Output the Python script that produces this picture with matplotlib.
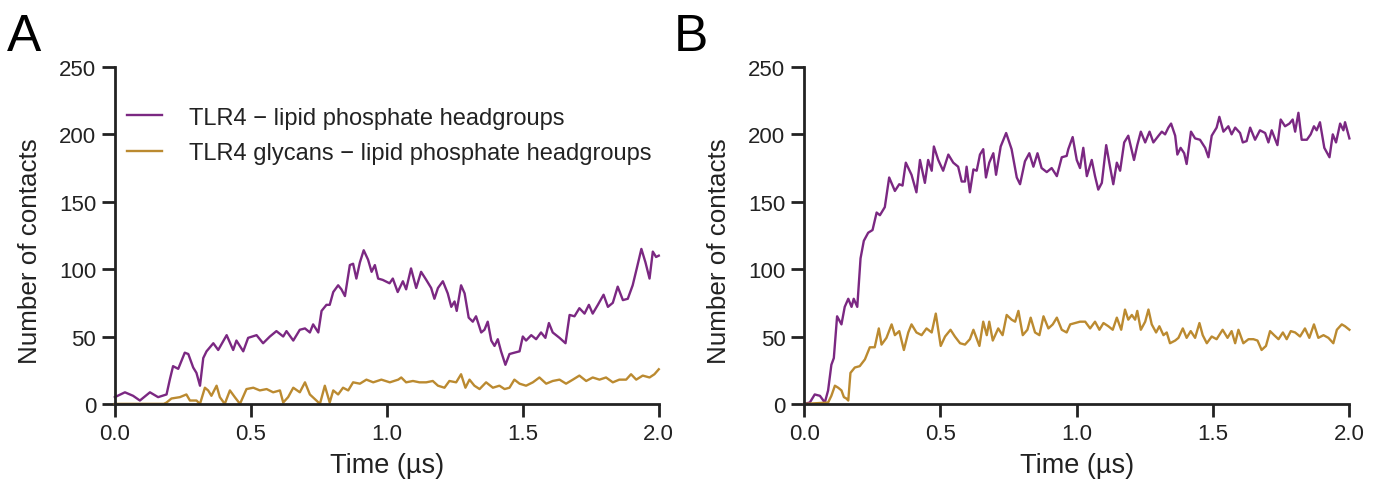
import matplotlib
matplotlib.use("Agg")
import matplotlib.pyplot as plt

plt.rcParams['font.family'] = ['Liberation Sans', 'DejaVu Sans']

PURPLE = '#7b2882'
GOLD = '#bb8a30'
AXIS = '#222222'

# Panel A - TLR4 / lipid phosphate headgroups
a_prot_t = [0.000, 0.037, 0.067, 0.092, 0.129, 0.159, 0.190, 0.202, 0.214, 0.233,
            0.257, 0.270, 0.288, 0.300, 0.313, 0.325, 0.337, 0.362, 0.380, 0.411,
            0.435, 0.447, 0.472, 0.490, 0.521, 0.545, 0.570, 0.594, 0.619, 0.631,
            0.656, 0.680, 0.699, 0.717, 0.729, 0.748, 0.760, 0.778, 0.790, 0.803,
            0.821, 0.833, 0.846, 0.864, 0.876, 0.888, 0.901, 0.915, 0.931, 0.944,
            0.956, 0.968, 0.985, 1.010, 1.022, 1.040, 1.059, 1.071, 1.089, 1.108,
            1.126, 1.145, 1.163, 1.175, 1.188, 1.206, 1.224, 1.237, 1.249, 1.257,
            1.273, 1.286, 1.301, 1.316, 1.328, 1.347, 1.359, 1.371, 1.384, 1.396,
            1.408, 1.420, 1.436, 1.451, 1.469, 1.488, 1.500, 1.512, 1.531, 1.549,
            1.567, 1.583, 1.596, 1.610, 1.635, 1.657, 1.672, 1.690, 1.708, 1.727,
            1.743, 1.757, 1.776, 1.797, 1.813, 1.831, 1.849, 1.868, 1.886, 1.904,
            1.919, 1.936, 1.951, 1.966, 1.978, 1.990, 2.000]
a_prot = [5, 8.6, 6, 2.5, 8.6, 5, 7, 18, 28, 26,
          38, 37, 27, 23, 13.5, 34, 39, 45, 40, 51,
          40, 47, 39, 49, 51, 45, 50, 54, 50, 54,
          47, 55, 56, 53, 59, 53, 69, 73.5, 73.5, 83,
          88, 85, 80, 103, 104, 93, 105, 114, 107, 98,
          103, 93, 92, 89.5, 93, 83, 91, 85, 100.5, 86,
          98, 92, 86, 78, 86, 91, 82, 72, 76, 69,
          88, 82, 64, 61, 65, 53, 55, 61, 47, 43,
          48, 39, 29, 37, 38, 39, 50, 47, 51, 48,
          53, 49, 60, 53, 49, 45, 66, 65, 71, 67,
          73.5, 67, 73.5, 81, 72, 75, 87, 77, 78, 88,
          100.5, 115, 105, 93, 113, 109, 110]

a_glyc_t = [0.000, 0.180, 0.190, 0.208, 0.239, 0.263, 0.276, 0.300, 0.313, 0.331,
            0.343, 0.355, 0.374, 0.386, 0.404, 0.423, 0.441, 0.460, 0.484, 0.509,
            0.533, 0.558, 0.582, 0.607, 0.619, 0.637, 0.656, 0.680, 0.699, 0.717,
            0.741, 0.754, 0.772, 0.790, 0.803, 0.821, 0.839, 0.858, 0.876, 0.901,
            0.925, 0.950, 0.980, 1.011, 1.042, 1.053, 1.071, 1.096, 1.120, 1.145,
            1.169, 1.188, 1.212, 1.230, 1.255, 1.273, 1.289, 1.304, 1.322, 1.341,
            1.365, 1.390, 1.414, 1.433, 1.451, 1.469, 1.488, 1.512, 1.537, 1.561,
            1.586, 1.610, 1.635, 1.659, 1.684, 1.708, 1.733, 1.757, 1.782, 1.806,
            1.831, 1.855, 1.880, 1.898, 1.917, 1.941, 1.966, 1.984, 2.000]
a_glyc = [0, 0, 1, 4, 5, 7, 2.5, 2.5, 0, 12,
          10, 6, 13.5, 5, 0, 10, 5, 0, 11, 12,
          10, 11, 8.6, 10, 1, 5, 12, 8.6, 16, 7,
          2.5, 0, 13.5, 1, 10, 7, 12, 10, 16, 15,
          18, 16, 18, 16, 18, 19.6, 16, 17, 16, 16,
          17, 13.5, 12, 17, 16, 22, 12, 18, 13.5, 11,
          16, 12, 13.5, 11, 12, 18, 15, 13.5, 16, 19.6,
          15, 17, 18, 15, 18, 21, 17, 19.6, 18, 19.6,
          16, 18, 18, 22, 18, 21, 19.6, 22, 25.7]

# Panel B
b_prot_t = [0.000, 0.021, 0.039, 0.058, 0.076, 0.088, 0.100, 0.109, 0.121, 0.137,
            0.149, 0.162, 0.174, 0.182, 0.195, 0.207, 0.219, 0.235, 0.251, 0.266,
            0.278, 0.296, 0.312, 0.333, 0.349, 0.361, 0.373, 0.394, 0.412, 0.425,
            0.443, 0.455, 0.468, 0.476, 0.492, 0.510, 0.529, 0.547, 0.565, 0.578,
            0.590, 0.596, 0.608, 0.621, 0.633, 0.645, 0.657, 0.667, 0.679, 0.694,
            0.704, 0.721, 0.741, 0.761, 0.780, 0.792, 0.810, 0.826, 0.841, 0.856,
            0.871, 0.890, 0.908, 0.927, 0.945, 0.963, 0.969, 0.985, 1.000, 1.012,
            1.024, 1.037, 1.055, 1.067, 1.079, 1.092, 1.108, 1.122, 1.134, 1.147,
            1.159, 1.174, 1.189, 1.210, 1.222, 1.235, 1.251, 1.267, 1.281, 1.300,
            1.312, 1.324, 1.336, 1.346, 1.361, 1.369, 1.381, 1.394, 1.403, 1.419,
            1.434, 1.452, 1.471, 1.483, 1.495, 1.513, 1.523, 1.538, 1.556, 1.568,
            1.581, 1.599, 1.609, 1.623, 1.636, 1.654, 1.672, 1.691, 1.703, 1.715,
            1.736, 1.748, 1.764, 1.780, 1.792, 1.801, 1.813, 1.825, 1.844, 1.858,
            1.870, 1.880, 1.892, 1.908, 1.927, 1.939, 1.951, 1.966, 1.978, 1.984,
            2.000]
b_prot = [0, 1, 7, 6, 1, 10, 29, 34, 65, 59,
          72, 78, 72, 78, 72, 108, 121, 127, 129, 142,
          140, 146, 168, 158, 163, 162, 179, 170, 157, 181,
          164, 181, 173, 191, 181, 173, 185, 179, 176, 165,
          165, 176, 157, 174, 173, 185, 189, 168, 179, 186,
          170, 191, 201, 189, 168, 163, 180, 186, 176, 186,
          175, 172, 175, 169, 183, 184, 189, 198, 181, 175,
          190, 169, 181, 169, 159, 164, 192, 176, 163, 179,
          173, 194, 199, 181, 192, 202, 194, 202, 194, 199,
          202, 200, 205, 208, 199, 185, 190, 186, 178, 202,
          197, 196, 190, 183, 199, 205, 213, 202, 206, 200,
          205, 201, 194, 195, 205, 196, 203, 201, 194, 203,
          192, 211, 206, 208, 211, 202, 216, 196, 196, 200,
          206, 203, 209, 190, 183, 200, 194, 208, 203, 209,
          197]

b_glyc_t = [0.000, 0.088, 0.100, 0.113, 0.125, 0.137, 0.146, 0.155, 0.162, 0.170,
            0.186, 0.204, 0.223, 0.241, 0.259, 0.274, 0.284, 0.302, 0.321, 0.333,
            0.349, 0.366, 0.382, 0.394, 0.412, 0.431, 0.449, 0.468, 0.483, 0.501,
            0.517, 0.537, 0.553, 0.572, 0.590, 0.608, 0.621, 0.643, 0.657, 0.670,
            0.679, 0.692, 0.712, 0.728, 0.743, 0.761, 0.774, 0.786, 0.802, 0.819,
            0.831, 0.847, 0.863, 0.878, 0.896, 0.912, 0.927, 0.945, 0.963, 0.976,
            0.994, 1.012, 1.031, 1.049, 1.067, 1.083, 1.098, 1.116, 1.132, 1.147,
            1.163, 1.177, 1.189, 1.202, 1.214, 1.222, 1.235, 1.251, 1.263, 1.275,
            1.291, 1.303, 1.318, 1.330, 1.342, 1.361, 1.373, 1.389, 1.403, 1.418,
            1.434, 1.450, 1.462, 1.477, 1.495, 1.513, 1.535, 1.553, 1.568, 1.581,
            1.593, 1.611, 1.630, 1.648, 1.663, 1.678, 1.694, 1.709, 1.724, 1.740,
            1.756, 1.770, 1.785, 1.801, 1.819, 1.837, 1.853, 1.870, 1.886, 1.905,
            1.923, 1.941, 1.954, 1.972, 1.984, 2.000]
b_glyc = [0, 1, 6, 13.5, 12, 10, 5, 4, 2.5, 23,
          27, 28, 33, 42, 42, 56, 44, 49, 59, 51,
          54, 40, 53, 59, 53, 51, 56, 53, 67, 43,
          50, 55, 50, 45, 44, 48, 55, 43, 61, 51,
          61, 47, 56, 51, 66, 62.5, 61, 69, 51, 55,
          64, 53, 51, 65, 56, 59, 64, 55, 53, 59,
          60, 61, 61, 56, 61, 55, 60, 57.6, 55, 64,
          55, 70, 62.5, 66, 62.5, 69, 55, 61, 70, 59,
          53, 57.6, 51, 53, 45, 47, 49, 56, 49, 54,
          49, 60, 51, 45, 50, 48, 55, 49, 54, 45,
          55, 45, 48, 48, 47, 40, 43, 54, 51, 48,
          53, 48, 54, 53, 50, 56, 49, 59, 49, 51,
          49, 45, 55, 59, 57.6, 55]

x_ticks = [0.0, 0.5, 1.0, 1.5, 2.0]
y_ticks = [0, 50, 100, 150, 200, 250]
legend_labels = ['TLR4 \u2212 lipid phosphate headgroups',
                 'TLR4 glycans \u2212 lipid phosphate headgroups']


def style_axes(ax):
    ax.set_xlim(0, 2.0)
    ax.set_ylim(0, 250)
    ax.set_xticks(x_ticks)
    ax.set_xticklabels([f'{t:.1f}' for t in x_ticks])
    ax.set_yticks(y_ticks)
    for side in ['top', 'right']:
        ax.spines[side].set_visible(False)
    for side in ['left', 'bottom']:
        ax.spines[side].set_linewidth(2)
        ax.spines[side].set_color(AXIS)
    ax.tick_params(direction='out', length=9.5, width=2, color=AXIS,
                   labelsize=16, labelcolor=AXIS, pad=4)
    ax.set_xlabel('Time (\u00b5s)', fontsize=19.5, color=AXIS, labelpad=6)
    ax.set_ylabel('Number of contacts', fontsize=18.7, color=AXIS)
    ax.yaxis.set_label_coords(-0.134, 0.455)


fig = plt.figure(figsize=(13.84, 4.89), dpi=100)
ax_a = fig.add_axes([0.083, 0.172, 0.393, 0.689])
ax_b = fig.add_axes([0.581, 0.172, 0.394, 0.689])

ax_a.plot(a_prot_t, a_prot, color=PURPLE, lw=1.7, label=legend_labels[0], clip_on=False)
ax_a.plot(a_glyc_t, a_glyc, color=GOLD, lw=1.7, label=legend_labels[1], clip_on=False)
ax_b.plot(b_prot_t, b_prot, color=PURPLE, lw=1.7, clip_on=False)
ax_b.plot(b_glyc_t, b_glyc, color=GOLD, lw=1.7, clip_on=False)

for ax in [ax_a, ax_b]:
    style_axes(ax)

leg = ax_a.legend(loc='upper left', bbox_to_anchor=(-0.017, 0.945), frameon=False,
                  fontsize=17, handlelength=1.5, handletextpad=1.15,
                  labelspacing=0.58)
for txt in leg.get_texts():
    txt.set_color(AXIS)

fig.text(0.005, 0.895, 'A', fontsize=37, color='black')
fig.text(0.487, 0.895, 'B', fontsize=37, color='black')

fig.savefig('out.png', dpi=100)
